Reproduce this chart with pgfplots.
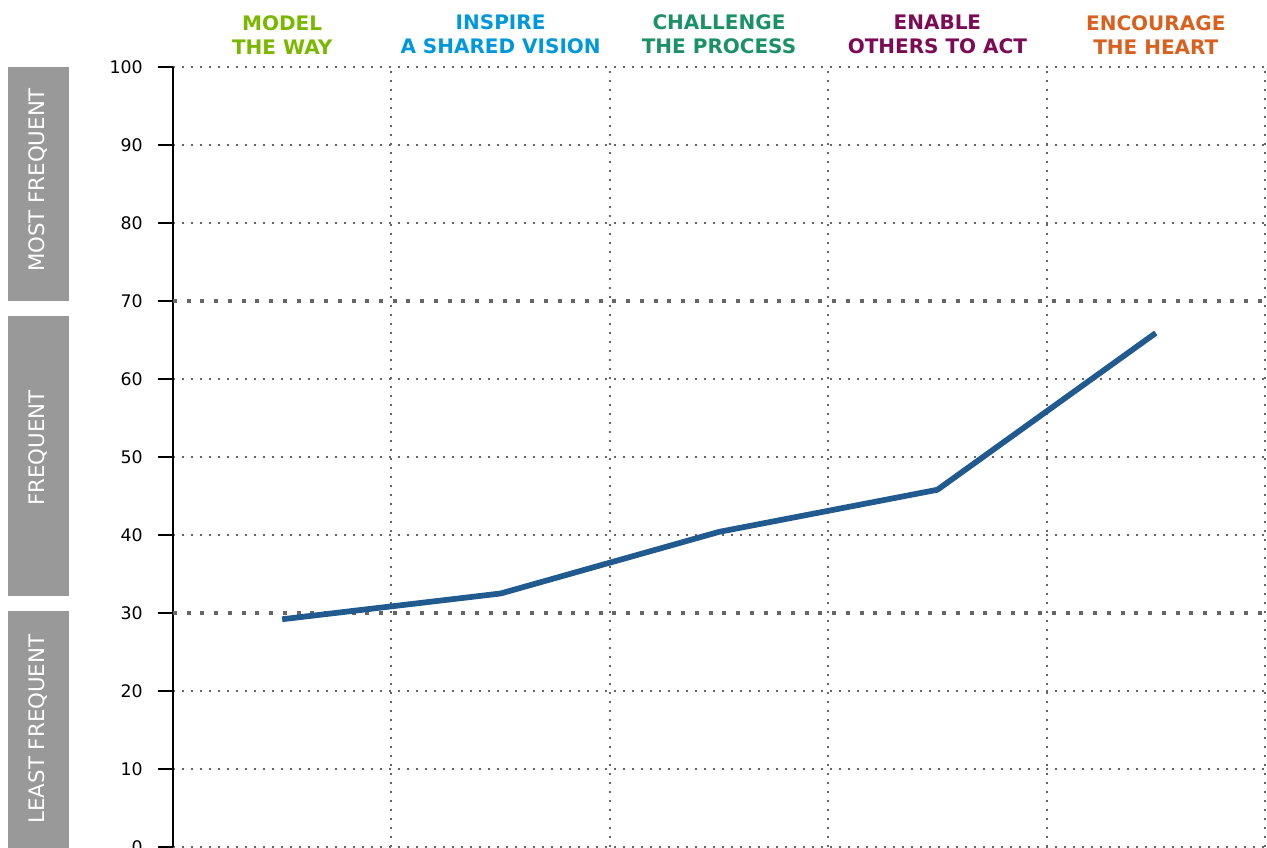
\documentclass[border=0pt]{standalone}
\usepackage{fontspec}
\setmainfont{DejaVu Sans}
\usepackage{pgfplots}
\pgfplotsset{compat=1.18}
\definecolor{cgreen}{HTML}{7AB800}
\definecolor{cblue}{HTML}{0098DB}
\definecolor{cteal}{HTML}{1B9165}
\definecolor{cpurple}{HTML}{7C0A55}
\definecolor{corange}{HTML}{D9601E}
\definecolor{linec}{HTML}{215A8E}
\definecolor{gridc}{HTML}{666666}
\definecolor{boxc}{HTML}{999999}
\begin{document}
\begin{tikzpicture}
\begin{axis}[
  scale only axis, width=819pt, height=585pt,
  xmin=-0.5, xmax=4.5, ymin=0, ymax=100,
  axis y line*=left, axis x line*=top,
  x axis line style={draw=none},
  y axis line style={black, line width=1.5pt, -},
  ytick={0,10,20,40,50,60,80,90,100},
  extra y ticks={30,70},
  extra y tick style={major grid style={gridc, line width=2.3pt, line cap=butt, dash pattern=on 3pt off 7.3pt}},
  ymajorgrids,
  major grid style={gridc, line width=1.5pt, line cap=butt, dash pattern=on 1.5pt off 5.25pt},
  minor grid style={gridc, line width=1.5pt, line cap=butt, dash pattern=on 1.5pt off 5.25pt},
  xtick={0,1,2,3,4},
  minor xtick={0.5,1.5,2.5,3.5,4.5},
  xminorgrids,
  xtick style={draw=none},
  minor x tick style={draw=none},
  ytick style={black, line width=1.5pt},
  major tick length=11pt,
  tick align=outside,
  /pgf/number format/assume math mode=true,
  yticklabel style={font=\fontsize{13}{16}\selectfont, inner sep=0pt, xshift=-11.5pt},
  xticklabel style={font=\bfseries\fontsize{15}{18}\selectfont, align=center, anchor=south, inner sep=0pt, yshift=-1.5pt},
  xticklabels={
    {\color{cgreen}MODEL\\\color{cgreen}THE WAY},
    {\color{cblue}INSPIRE\\\color{cblue}A SHARED VISION},
    {\color{cteal}CHALLENGE\\\color{cteal}THE PROCESS},
    {\color{cpurple}ENABLE\\\color{cpurple}OTHERS TO ACT},
    {\color{corange}ENCOURAGE\\\color{corange}THE HEART}},
]
\addplot[linec, line width=4.3pt, line cap=butt, line join=round] coordinates {
  (0,29.2) (1,32.5) (2,40.4) (3,45.8) (4,65.9)
};
\end{axis}
\fill[boxc] (-123.75pt,409.5pt) rectangle (-78pt,585pt);
\fill[boxc] (-123.75pt,188.25pt) rectangle (-78pt,398.25pt);
\fill[boxc] (-123.75pt,-20pt) rectangle (-78pt,177pt);
\node[rotate=90, text=white, font=\fontsize{16}{18}\selectfont] at (-101.25pt,500.25pt) {MOST FREQUENT};
\node[rotate=90, text=white, font=\fontsize{16}{18}\selectfont] at (-101.25pt,299.25pt) {FREQUENT};
\node[rotate=90, text=white, font=\fontsize{16}{18}\selectfont] at (-101.25pt,88.5pt) {LEAST FREQUENT};
\pgfresetboundingbox
\useasboundingbox (-129.75pt,0pt) rectangle (820.5pt,635.25pt);
\end{tikzpicture}
\end{document}
